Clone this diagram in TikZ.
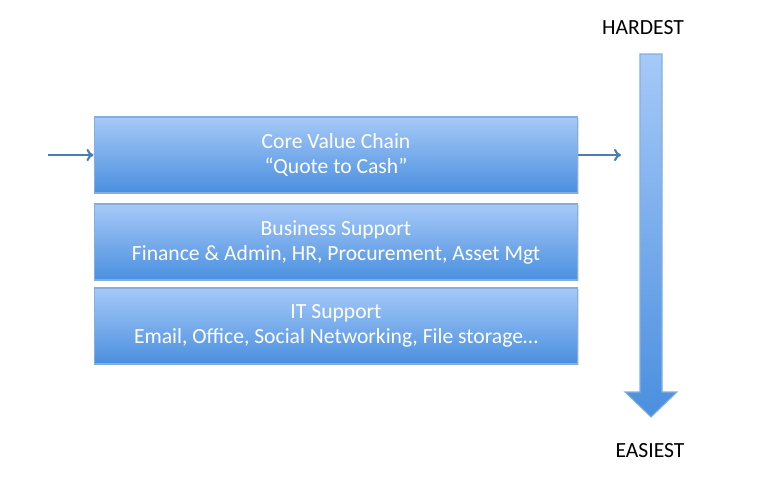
\documentclass[tikz,border=0pt]{standalone}
\usepackage{fontspec}
\setmainfont{Carlito}
\usetikzlibrary{positioning,arrows.meta,shadows}
\definecolor{boxtop}{HTML}{A6C9F8}
\definecolor{boxbot}{HTML}{4A8FDF}
\definecolor{boxline}{HTML}{86AEDD}
\definecolor{flow}{HTML}{4D7DB5}

\begin{document}
\begin{tikzpicture}[x=0.02cm, y=-0.02cm,
  layer/.style={draw=boxline, line width=0.6pt, top color=boxtop, bottom color=boxbot,
    minimum width=9.68cm, minimum height=1.52cm, align=center, text=white,
    font=\fontsize{12.3}{14.3}\selectfont, drop shadow={shadow xshift=0.5pt, shadow yshift=-0.8pt, opacity=0.25}},
  flowline/.style={draw=flow, line width=1.2pt, -{To[length=4pt, width=7pt]}},
  tag/.style={font=\fontsize{12.3}{14}\selectfont, text=black}]
\useasboundingbox (0,0) rectangle (768,488);

% layers
\node[layer] (core) at (336,155) {Core Value Chain\\“Quote to Cash”};
\node[layer] (bus) at (336,242) {Business Support\\Finance \& Admin, HR, Procurement, Asset Mgt};
\node[layer] (it) at (336,326) {IT Support\\Email, Office, Social Networking, File storage…};

% flow through the chain
\coordinate (in) at (48,155);
\coordinate (out) at (621,155);
\draw[flowline] (in) -- (core.west);
\draw[flowline] (core.east) -- (out);

% difficulty scale
\node[tag] (hard) at (643,28) {HARDEST};
\node[tag] (easy) at (650,451) {EASIEST};
\draw[draw=boxline, line width=0.6pt, top color=boxtop, bottom color=boxbot]
  (640,54) -- (662,54) -- (662,392) -- (677,392) -- (651,417) -- (625,392) -- (640,392) -- cycle;
\end{tikzpicture}
\end{document}
